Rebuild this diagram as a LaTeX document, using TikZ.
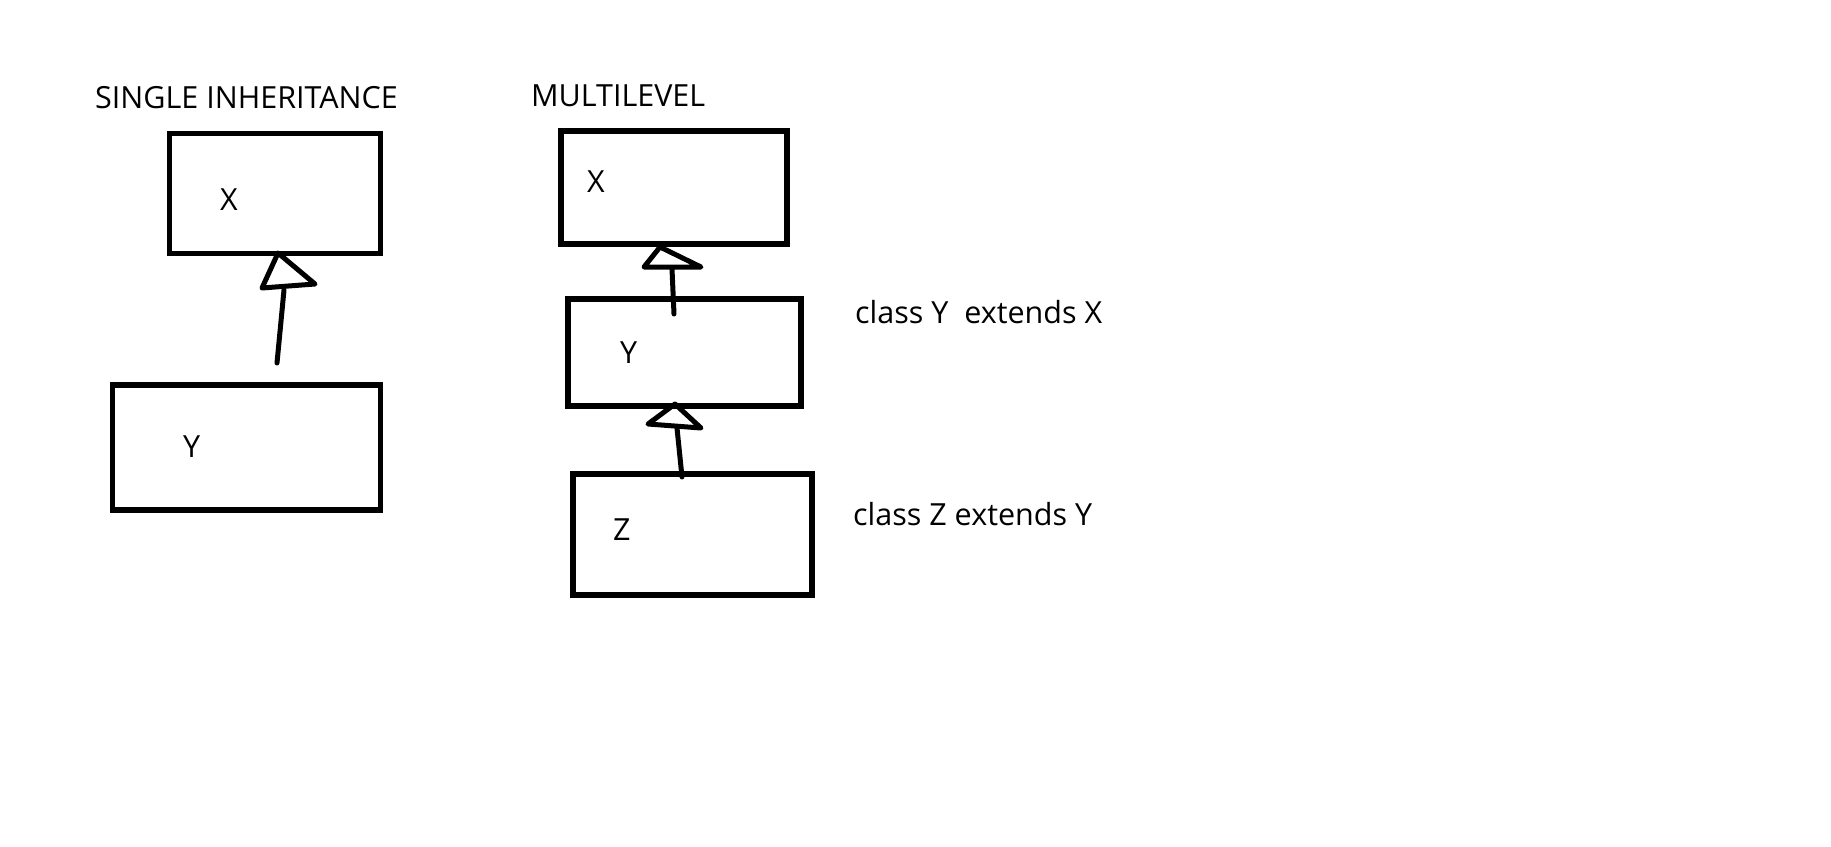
\documentclass[tikz,border=0pt]{standalone}
\usepackage{fontspec}
\setmainfont{Open Sans}
\begin{document}
\begin{tikzpicture}[x=1pt,y=-1pt,
  box/.style={draw=black,line width=5.6pt,inner sep=0pt,outer sep=0pt,fill=none},
  lbl/.style={anchor=base west,inner sep=0pt,font=\fontsize{30.5}{34}\selectfont},
  stem/.style={draw=black,line width=5pt,line cap=round},
  tri/.style={draw=black,line width=5pt,line join=round,line cap=round}]
\useasboundingbox (0,0) rectangle (1831,846);
% titles
\node[lbl] (t1) at (95,108) {SINGLE INHERITANCE};
\node[lbl] (t2) at (531,106) {MULTILEVEL};
% single inheritance
\node[box,minimum width=211pt,minimum height=120pt] (sx) at (275,193.5) {};
\node[box,minimum width=268pt,minimum height=125.5pt] (sy) at (246.3,447.5) {};
\node[lbl] (sxl) at (220,210) {X};
\node[lbl] (syl) at (183,457) {Y};
\coordinate (s1a) at (278,253);
\coordinate (s1b) at (262,288);
\coordinate (s1c) at (315,284);
\coordinate (s1s) at (284,290);
\coordinate (s1e) at (277,363);
\draw[tri] (s1a) -- (s1b) -- (s1c) -- cycle;
\draw[stem] (s1e) -- (s1s);
% multilevel
\node[box,minimum width=226.4pt,minimum height=113.4pt] (mx) at (674,187.5) {};
\node[box,minimum width=233.4pt,minimum height=107.4pt] (my) at (684.5,352.5) {};
\node[box,minimum width=239.4pt,minimum height=121.4pt] (mz) at (692.5,534.5) {};
\node[lbl] (mxl) at (587,192) {X};
\node[lbl] (myl) at (620,363) {Y};
\node[lbl] (mzl) at (613,540) {Z};
\coordinate (m1a) at (660,247);
\coordinate (m1b) at (644,267);
\coordinate (m1c) at (701,267);
\coordinate (m1s) at (672,269);
\coordinate (m1e) at (674,314);
\draw[tri] (m1a) -- (m1b) -- (m1c) -- cycle;
\draw[stem] (m1e) -- (m1s);
\coordinate (m2a) at (675,404);
\coordinate (m2b) at (648,424);
\coordinate (m2c) at (701,428);
\coordinate (m2s) at (677,428);
\coordinate (m2e) at (682,477);
\draw[tri] (m2a) -- (m2b) -- (m2c) -- cycle;
\draw[stem] (m2e) -- (m2s);
\node[lbl] (c1) at (855,323) {class Y\ \ extends X};
\node[lbl] (c2) at (853,525) {class Z extends Y};
\end{tikzpicture}
\end{document}
